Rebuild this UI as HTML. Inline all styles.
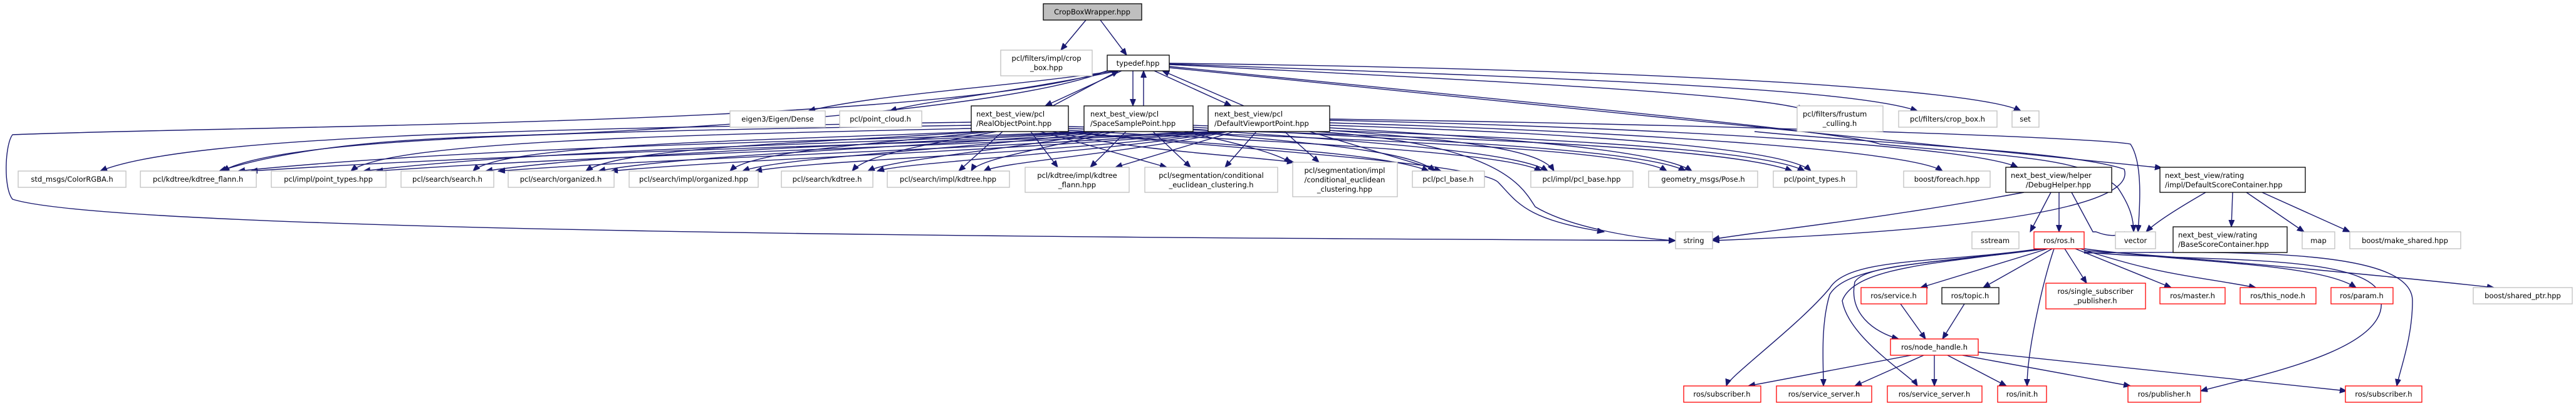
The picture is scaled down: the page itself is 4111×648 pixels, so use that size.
<!DOCTYPE html>
<html><head><meta charset="utf-8"><style>
html,body{margin:0;padding:0;background:#fff;}
svg{display:block}
text{font-family:"DejaVu Sans","Liberation Sans",sans-serif;font-size:11.5px;fill:#000;text-anchor:middle}
text.l{text-anchor:start}
.g{fill:#fff;stroke:#bfbfbf;stroke-width:1.3}
.b{fill:#fff;stroke:#000;stroke-width:1.3}
.r{fill:#fff;stroke:#ff0000;stroke-width:1.3}
.e path{fill:none;stroke:#191970;stroke-width:1.4}
</style></head><body>
<svg width="4111" height="648" viewBox="0 0 4111 648" xmlns="http://www.w3.org/2000/svg">
<defs><marker id="a" markerUnits="userSpaceOnUse" markerWidth="14" markerHeight="12" refX="11" refY="4.5" orient="auto"><path d="M0,0 L11,4.5 L0,9 z" fill="#191970" stroke="#191970"/></marker></defs>
<g class="e">
<path marker-end="url(#a)" d="M1733,32 L1693,80"/>
<path marker-end="url(#a)" d="M1756,32 L1798,88"/>
<path marker-end="url(#a)" d="M1780,113 C1600,140 1400,150 1290,177"/>
<path marker-end="url(#a)" d="M1785,113 C1600,150 1480,160 1420,177"/>
<path marker-end="url(#a)" d="M1866,103 C2400,130 2800,150 2880,175"/>
<path marker-end="url(#a)" d="M1866,102 C2500,125 2950,140 3060,177"/>
<path marker-end="url(#a)" d="M1866,101 C2600,110 3150,140 3225,177"/>
<path marker-end="url(#a)" d="M1790,113 L1668,169"/>
<path marker-end="url(#a)" d="M1808,113 L1808,169"/>
<path marker-end="url(#a)" d="M1842,113 L1965,169"/>
<path marker-end="url(#a)" d="M1680,169 L1785,113"/>
<path marker-end="url(#a)" d="M1825,169 L1825,113"/>
<path marker-end="url(#a)" d="M1985,169 L1855,113"/>
<path marker-end="url(#a)" d="M1866,106 C2400,160 2950,210 3000,230 C3200,250 3330,250 3380,300 C3400,330 3405,350 3405,370"/>
<path marker-end="url(#a)" d="M1866,108 C2600,180 3300,250 3450,268"/>
<path marker-end="url(#a)" d="M1767,113 C1500,200 400,200 20,215 C8,230 5,300 20,318 C200,375 2000,380 2674,384"/>
<path marker-end="url(#a)" d="M1767,113 C1600,180 1000,210 860,215 C700,220 500,225 350,273"/>
<path marker-end="url(#a)" d="M1550,195 C900,205 300,215 160,273"/>
<path marker-end="url(#a)" d="M1550,200 C900,210 450,220 355,273"/>
<path marker-end="url(#a)" d="M1550,205 C1100,215 620,225 560,273"/>
<path marker-end="url(#a)" d="M1560,210 C1200,225 800,230 755,273"/>
<path marker-end="url(#a)" d="M1570,210 C1300,228 990,235 935,273"/>
<path marker-end="url(#a)" d="M1580,210 C1400,230 1200,240 1165,273"/>
<path marker-end="url(#a)" d="M1590,210 C1450,235 1380,250 1360,273"/>
<path marker-end="url(#a)" d="M1600,210 L1530,273"/>
<path marker-end="url(#a)" d="M1645,210 L1688,267"/>
<path marker-end="url(#a)" d="M1660,210 L1862,267"/>
<path marker-end="url(#a)" d="M1680,210 C1800,240 2000,250 2065,259"/>
<path marker-end="url(#a)" d="M1700,210 C1900,230 2200,240 2280,273"/>
<path marker-end="url(#a)" d="M1705,208 C2000,225 2400,240 2460,273"/>
<path marker-end="url(#a)" d="M1705,205 C2100,220 2600,235 2660,273"/>
<path marker-end="url(#a)" d="M1705,202 C2200,215 2750,230 2860,273"/>
<path marker-end="url(#a)" d="M1735,210 C1400,225 800,230 380,273"/>
<path marker-end="url(#a)" d="M1740,210 C1400,230 900,235 580,273"/>
<path marker-end="url(#a)" d="M1745,210 C1450,232 1000,240 775,273"/>
<path marker-end="url(#a)" d="M1750,210 C1500,235 1100,245 955,273"/>
<path marker-end="url(#a)" d="M1760,210 C1550,238 1250,250 1185,273"/>
<path marker-end="url(#a)" d="M1770,210 C1600,240 1420,255 1385,273"/>
<path marker-end="url(#a)" d="M1780,210 C1650,240 1560,255 1550,273"/>
<path marker-end="url(#a)" d="M1797,210 L1740,267"/>
<path marker-end="url(#a)" d="M1840,210 L1900,267"/>
<path marker-end="url(#a)" d="M1890,210 C1980,230 2040,245 2060,260"/>
<path marker-end="url(#a)" d="M1900,210 C2100,230 2250,240 2290,273"/>
<path marker-end="url(#a)" d="M1904,206 C2150,225 2420,240 2470,273"/>
<path marker-end="url(#a)" d="M1904,203 C2200,222 2620,235 2690,273"/>
<path marker-end="url(#a)" d="M1904,200 C2300,215 2800,230 2880,273"/>
<path marker-end="url(#a)" d="M1930,210 C1500,230 900,240 400,273"/>
<path marker-end="url(#a)" d="M1935,210 C1500,235 1000,245 600,273"/>
<path marker-end="url(#a)" d="M1940,210 C1600,238 1100,250 795,273"/>
<path marker-end="url(#a)" d="M1945,210 C1650,240 1200,252 975,273"/>
<path marker-end="url(#a)" d="M1950,210 C1700,245 1300,255 1205,273"/>
<path marker-end="url(#a)" d="M1955,210 C1750,245 1450,258 1400,273"/>
<path marker-end="url(#a)" d="M1960,210 C1800,245 1600,258 1570,273"/>
<path marker-end="url(#a)" d="M1970,210 L1780,267"/>
<path marker-end="url(#a)" d="M2005,210 L1955,267"/>
<path marker-end="url(#a)" d="M2050,210 L2105,259"/>
<path marker-end="url(#a)" d="M2090,210 L2300,273"/>
<path marker-end="url(#a)" d="M2122,208 C2350,225 2460,240 2480,273"/>
<path marker-end="url(#a)" d="M2122,204 C2400,220 2650,240 2700,273"/>
<path marker-end="url(#a)" d="M2122,200 C2500,212 2850,235 2890,273"/>
<path marker-end="url(#a)" d="M2122,196 C2600,210 3050,240 3100,273"/>
<path marker-end="url(#a)" d="M2122,192 C2700,205 3150,235 3220,267"/>
<path marker-end="url(#a)" d="M2122,190 C2800,200 3350,220 3400,230 C3420,260 3415,330 3412,370"/>
<path marker-end="url(#a)" d="M2100,210 C2400,230 2430,300 2450,330 C2500,360 2600,380 2674,384"/>
<path marker-end="url(#a)" d="M1690,210 C2000,240 2350,260 2390,290 C2420,320 2430,350 2560,370"/>
<path marker-end="url(#a)" d="M2800,210 C3000,230 3300,240 3390,270 C3400,300 3360,360 2733,384"/>
<path marker-end="url(#a)" d="M3230,307 C3000,350 2800,370 2733,382"/>
<path marker-end="url(#a)" d="M3273,307 L3240,370"/>
<path marker-end="url(#a)" d="M3286,307 L3286,370"/>
<path marker-end="url(#a)" d="M3306,307 L3340,370 L3345,370 C3370,380 3385,375 3390,370"/>
<path marker-end="url(#a)" d="M3520,307 C3480,330 3440,355 3425,370"/>
<path marker-end="url(#a)" d="M3563,307 L3561,362"/>
<path marker-end="url(#a)" d="M3585,307 L3677,370"/>
<path marker-end="url(#a)" d="M3610,307 L3750,370"/>
<path marker-end="url(#a)" d="M3268,397 L3065,459"/>
<path marker-end="url(#a)" d="M3275,397 L3165,459"/>
<path marker-end="url(#a)" d="M3295,397 L3330,452"/>
<path marker-end="url(#a)" d="M3312,397 L3465,459"/>
<path marker-end="url(#a)" d="M3320,397 C3450,440 3500,440 3600,459"/>
<path marker-end="url(#a)" d="M3326,397 C3500,420 3700,420 3760,459"/>
<path marker-end="url(#a)" d="M3326,400 C3500,410 3900,450 3980,459"/>
<path marker-end="url(#a)" d="M3265,397 C3100,420 2980,420 2960,450 C2950,500 2990,530 3030,541"/>
<path marker-end="url(#a)" d="M3255,397 C3100,420 2950,410 2920,460 C2870,520 2760,600 2755,616"/>
<path marker-end="url(#a)" d="M3258,397 C3100,420 2950,420 2920,470 C2905,520 2910,580 2910,616"/>
<path marker-end="url(#a)" d="M3260,397 C3100,420 2960,425 2940,480 C2950,540 3050,600 3060,616"/>
<path marker-end="url(#a)" d="M3278,397 C3260,450 3235,560 3235,616"/>
<path marker-end="url(#a)" d="M3326,402 C3500,420 3800,400 3800,480 C3810,560 3600,600 3512,624"/>
<path marker-end="url(#a)" d="M3326,404 C3600,400 3850,400 3850,480 C3850,540 3830,590 3825,616"/>
<path marker-end="url(#a)" d="M3033,485 L3073,541"/>
<path marker-end="url(#a)" d="M3135,485 L3100,541"/>
<path marker-end="url(#a)" d="M3050,567 L2790,616"/>
<path marker-end="url(#a)" d="M3070,567 L2960,616"/>
<path marker-end="url(#a)" d="M3087,567 L3087,616"/>
<path marker-end="url(#a)" d="M3108,567 L3202,616"/>
<path marker-end="url(#a)" d="M3132,567 L3400,616"/>
<path marker-end="url(#a)" d="M3157,562 L3745,624"/>
</g>
<rect x="1665" y="6" width="157" height="26" fill="#bfbfbf" stroke="#000" stroke-width="1.3"/><text x="1743" y="23">CropBoxWrapper.hpp</text>
<rect class="g" x="1597" y="80" width="146" height="41"/><text x="1670" y="97">pcl/filters/impl/crop</text><text x="1670" y="112">_box.hpp</text>
<rect class="b" x="1767" y="88" width="99" height="25"/><text x="1816" y="105">typedef.hpp</text>
<rect class="g" x="1165" y="177" width="152" height="26"/><text x="1241" y="194">eigen3/Eigen/Dense</text>
<rect class="g" x="1340" y="177" width="131" height="26"/><text x="1405" y="194">pcl/point_cloud.h</text>
<rect class="b" x="1550" y="169" width="155" height="41"/><text class="l" x="1558" y="186">next_best_view/pcl</text><text class="l" x="1558" y="201">/RealObjectPoint.hpp</text>
<rect class="b" x="1730" y="169" width="174" height="41"/><text class="l" x="1740" y="186">next_best_view/pcl</text><text class="l" x="1740" y="201">/SpaceSamplePoint.hpp</text>
<rect class="b" x="1928" y="169" width="194" height="41"/><text class="l" x="1938" y="186">next_best_view/pcl</text><text class="l" x="1938" y="201">/DefaultViewportPoint.hpp</text>
<rect class="g" x="2868" y="169" width="137" height="41"/><text class="l" x="2877" y="186">pcl/filters/frustum</text><text x="2936" y="201">_culling.h</text>
<rect class="g" x="3030" y="177" width="157" height="26"/><text x="3108" y="194">pcl/filters/crop_box.h</text>
<rect class="g" x="3211" y="177" width="43" height="26"/><text x="3232" y="194">set</text>
<rect class="g" x="29" y="273" width="172" height="26"/><text x="115" y="290">std_msgs/ColorRGBA.h</text>
<rect class="g" x="224" y="273" width="185" height="26"/><text x="316" y="290">pcl/kdtree/kdtree_flann.h</text>
<rect class="g" x="433" y="273" width="183" height="26"/><text x="524" y="290">pcl/impl/point_types.hpp</text>
<rect class="g" x="640" y="273" width="148" height="26"/><text x="714" y="290">pcl/search/search.h</text>
<rect class="g" x="811" y="273" width="169" height="26"/><text x="895" y="290">pcl/search/organized.h</text>
<rect class="g" x="1004" y="273" width="206" height="26"/><text x="1107" y="290">pcl/search/impl/organized.hpp</text>
<rect class="g" x="1247" y="273" width="146" height="26"/><text x="1320" y="290">pcl/search/kdtree.h</text>
<rect class="g" x="1416" y="273" width="195" height="26"/><text x="1513" y="290">pcl/search/impl/kdtree.hpp</text>
<rect class="g" x="1636" y="267" width="166" height="40"/><text x="1719" y="284">pcl/kdtree/impl/kdtree</text><text x="1719" y="299">_flann.hpp</text>
<rect class="g" x="1827" y="267" width="212" height="40"/><text x="1933" y="284">pcl/segmentation/conditional</text><text x="1933" y="299">_euclidean_clustering.h</text>
<rect class="g" x="2063" y="259" width="167" height="55"/><text x="2146" y="276">pcl/segmentation/impl</text><text x="2146" y="291">/conditional_euclidean</text><text x="2146" y="306">_clustering.hpp</text>
<rect class="g" x="2254" y="273" width="115" height="26"/><text x="2311" y="290">pcl/pcl_base.h</text>
<rect class="g" x="2443" y="273" width="163" height="26"/><text x="2524" y="290">pcl/impl/pcl_base.hpp</text>
<rect class="g" x="2631" y="273" width="174" height="26"/><text x="2718" y="290">geometry_msgs/Pose.h</text>
<rect class="g" x="2830" y="273" width="133" height="26"/><text x="2896" y="290">pcl/point_types.h</text>
<rect class="g" x="3038" y="273" width="138" height="26"/><text x="3107" y="290">boost/foreach.hpp</text>
<rect class="b" x="3201" y="267" width="169" height="40"/><text class="l" x="3209" y="284">next_best_view/helper</text><text x="3285" y="299">/DebugHelper.hpp</text>
<rect class="b" x="3447" y="267" width="232" height="40"/><text class="l" x="3455" y="284">next_best_view/rating</text><text class="l" x="3455" y="299">/impl/DefaultScoreContainer.hpp</text>
<rect class="g" x="2674" y="370" width="59" height="27"/><text x="2703" y="388">string</text>
<rect class="g" x="3147" y="370" width="75" height="27"/><text x="3184" y="388">sstream</text>
<rect class="r" x="3246" y="370" width="80" height="27"/><text x="3286" y="388">ros/ros.h</text>
<rect class="g" x="3376" y="370" width="64" height="27"/><text x="3408" y="388">vector</text>
<rect class="b" x="3468" y="362" width="182" height="41"/><text class="l" x="3476" y="379">next_best_view/rating</text><text class="l" x="3476" y="394">/BaseScoreContainer.hpp</text>
<rect class="g" x="3674" y="370" width="52" height="27"/><text x="3700" y="388">map</text>
<rect class="g" x="3750" y="370" width="177" height="27"/><text x="3838" y="388">boost/make_shared.hpp</text>
<rect class="r" x="2970" y="459" width="105" height="26"/><text x="3022" y="476">ros/service.h</text>
<rect class="b" x="3099" y="459" width="91" height="26"/><text x="3144" y="476">ros/topic.h</text>
<rect class="r" x="3265" y="452" width="159" height="41"/><text x="3344" y="469">ros/single_subscriber</text><text x="3344" y="484">_publisher.h</text>
<rect class="r" x="3447" y="459" width="104" height="26"/><text x="3499" y="476">ros/master.h</text>
<rect class="r" x="3575" y="459" width="121" height="26"/><text x="3635" y="476">ros/this_node.h</text>
<rect class="r" x="3720" y="459" width="99" height="26"/><text x="3769" y="476">ros/param.h</text>
<rect class="g" x="3947" y="459" width="158" height="26"/><text x="4026" y="476">boost/shared_ptr.hpp</text>
<rect class="r" x="3017" y="541" width="140" height="26"/><text x="3087" y="558">ros/node_handle.h</text>
<rect class="r" x="2687" y="616" width="123" height="26"/><text x="2748" y="633">ros/subscriber.h</text>
<rect class="r" x="2835" y="616" width="152" height="26"/><text x="2911" y="633">ros/service_server.h</text>
<rect class="r" x="3012" y="616" width="151" height="26"/><text x="3087" y="633">ros/service_server.h</text>
<rect class="r" x="3188" y="616" width="78" height="26"/><text x="3227" y="633">ros/init.h</text>
<rect class="r" x="3396" y="616" width="116" height="26"/><text x="3454" y="633">ros/publisher.h</text>
<rect class="r" x="3743" y="616" width="122" height="26"/><text x="3804" y="633">ros/subscriber.h</text>
</svg>
</body></html>
